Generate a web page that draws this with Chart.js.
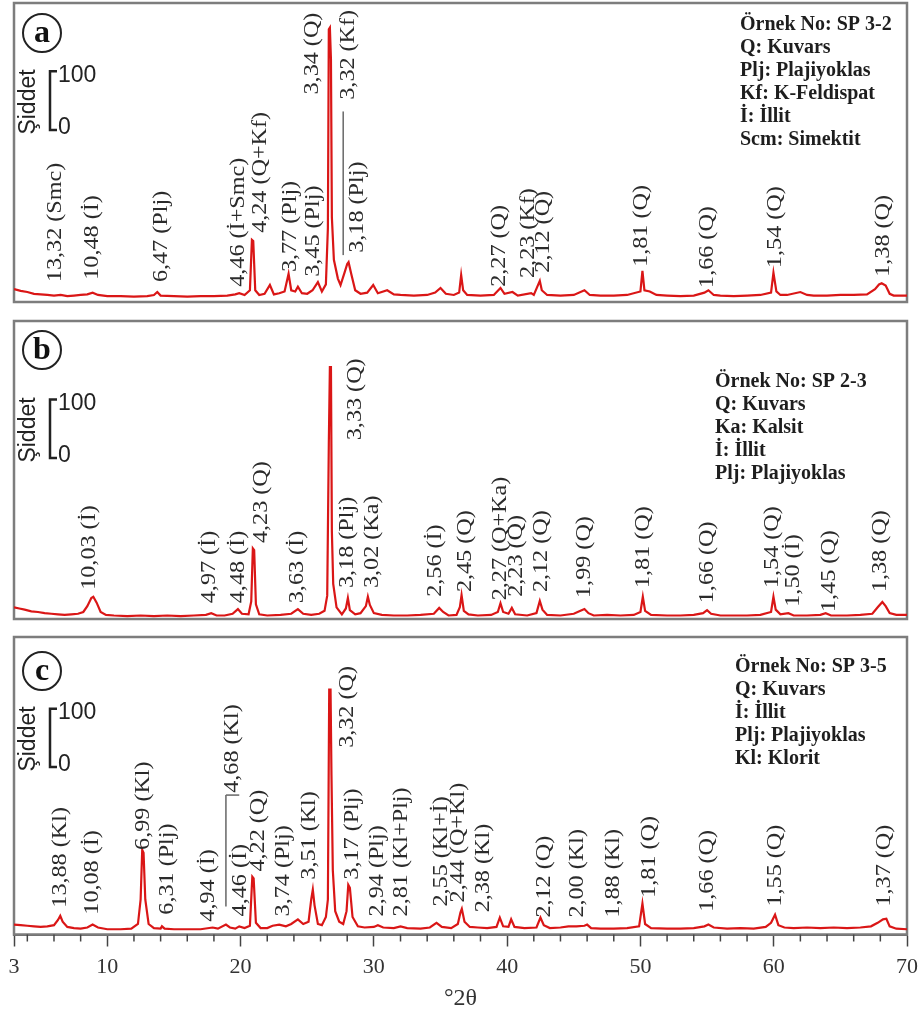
<!DOCTYPE html>
<html>
<head>
<meta charset="utf-8">
<script src="https://cdn.jsdelivr.net/npm/chart.js@4.4.1/dist/chart.umd.min.js"></script>
<style>
html, body { margin: 0; padding: 0; background: #fff; }
#wrap { position: relative; width: 921px; height: 1014px; }
.pn { position: absolute; left: 0; width: 921px; }
</style>
</head>
<body>
<div id="wrap">
  <div class="pn" style="top:0;height:312px"><canvas id="pa"></canvas></div>
  <div class="pn" style="top:312px;height:312px"><canvas id="pb"></canvas></div>
  <div class="pn" style="top:624px;height:390px"><canvas id="pc"></canvas></div>
</div>
<script>
// ---- panel a : SP 3-2 ----
var thetaA = [3.0,3.5,4.0,4.5,5.0,5.5,6.0,6.5,7.0,7.5,8.0,8.5,8.9,9.3,10,11,12,13,13.5,13.75,14.0,15,16,17,18,19,19.6,19.9,20.3,20.7,20.85,20.95,21.1,21.4,21.8,22.2,22.5,22.9,23.3,23.6,23.8,24.1,24.3,24.6,25.0,25.4,25.8,26.1,26.4,26.55,26.62,26.7,26.78,26.85,27.0,27.3,27.5,27.8,28.0,28.1,28.3,28.6,29.0,29.5,29.95,30.3,31.0,31.5,32,33,34,34.6,35.0,35.4,36,36.4,36.55,36.7,37,38,39,39.5,39.8,40.4,40.8,41.8,42.0,42.45,42.6,43,44,45,45.8,46.2,47,48,49,50.0,50.15,50.3,50.7,51.2,52,53,54,54.8,55.1,55.5,56,57,58,59,59.8,59.98,60.2,60.5,61,62,62.5,63,64,65,66,67,67.6,67.9,68.1,68.4,68.7,69,70];
var countsA = [22,19,17,14,13,12,11,12,10,11,12,13,16,12,10,10,9,10,12,17,11,10,9,10,10,11,13,15,12,20,106,104,20,12,14,29,13,15,18,48,20,18,26,15,14,20,34,18,30,126,465,468,414,144,72,40,29,50,65,68,48,20,14,16,29,15,20,13,12,11,12,16,24,14,12,16,46,20,12,11,12,24,14,17,11,15,12,36,20,12,11,12,20,12,11,11,12,18,53,20,18,12,11,10,11,16,20,12,11,10,11,12,16,50,18,12,12,17,12,11,11,12,12,13,22,30,32,28,14,11,11];
var peakTextA = ["13,32 (Smc)","10,48 (İ)","6,47 (Plj)","4,46 (İ+Smc)","4,24 (Q+Kf)","3,77 (Plj)","3,45 (Plj)","3,34 (Q)","3,32 (Kf)","3,18 (Plj)","2,27 (Q)","2,23 (Kf)","2,12 (Q)","1,81 (Q)","1,66 (Q)","1,54 (Q)","1,38 (Q)"];
var peakThetaA = [6.1,8.9,14.1,19.85,21.5,23.75,25.5,25.4,28.1,28.8,39.4,41.6,42.7,50.1,55.0,60.1,68.2];
var peakLiftA = [34,38,34,26,118,51,43,354,345,84,26,41,50,60,24,58,43];
var keyA = ["Örnek No: SP 3-2","Q: Kuvars","Plj: Plajiyoklas","Kf: K-Feldispat","İ: İllit","Scm: Simektit"];

// ---- panel b : SP 2-3 ----
var thetaB = [3.0,3.4,3.8,4.3,4.8,5.3,5.8,6.3,6.8,7.3,7.8,8.2,8.5,8.8,8.95,9.2,9.5,9.9,10.5,11.5,12.5,13.5,14.5,15.5,16.5,17.4,17.8,18.2,18.8,19.4,19.8,20.1,20.6,20.8,20.92,21.02,21.15,21.4,22,23,23.8,24.3,24.7,25.3,25.9,26.3,26.5,26.62,26.7,26.78,26.85,26.95,27.2,27.6,27.9,28.05,28.2,28.6,29.0,29.4,29.55,29.7,30.0,30.6,31.5,32.5,33.5,34.5,34.9,35.2,35.6,36.2,36.45,36.58,36.75,37.1,37.8,38.8,39.3,39.5,39.7,40.1,40.35,40.6,41.5,42.2,42.45,42.65,43.0,44,45,45.5,45.8,46.1,46.5,47.5,48.5,49.5,50.0,50.18,50.35,50.8,52,53,54,54.7,55.0,55.3,56,57,58,59,59.8,59.98,60.15,60.5,61.1,61.5,62.5,63.5,63.9,64.3,65.5,66.5,67.4,67.8,68.15,68.4,68.7,69.2,70];
var countsB = [20,18,16,13,12,10,9,8,7,8,9,12,22,36,38,28,12,7,6,5,6,5,6,5,6,7,10,6,6,9,17,9,8,30,121,118,25,8,6,7,9,17,9,7,9,14,40,300,431,431,149,60,20,8,18,36,15,8,10,22,38,24,10,7,6,6,7,9,19,12,6,7,20,41,14,8,6,7,12,27,12,9,19,8,6,10,31,16,7,6,9,14,17,10,6,7,6,7,12,38,14,7,6,6,7,10,15,9,6,6,6,7,12,38,16,8,10,6,6,7,10,6,6,7,9,20,29,22,10,7,7];
var peakTextB = ["10,03 (İ)","4,97 (İ)","4,48 (İ)","4,23 (Q)","3,63 (İ)","3,33 (Q)","3,18 (Plj)","3,02 (Ka)","2,56 (İ)","2,45 (Q)","2,27 (Q+Ka)","2,23 (Q)","2,12 (Q)","1,99 (Q)","1,81 (Q)","1,66 (Q)","1,54 (Q)","1,50 (İ)","1,45 (Q)","1,38 (Q)"];
var peakThetaB = [8.7,17.7,19.85,21.6,24.3,28.6,28.0,29.9,34.6,36.9,39.5,40.7,42.6,45.8,50.2,55.0,59.9,61.5,64.2,68.0];
var peakLiftB = [50,27,27,130,27,306,53,53,38,46,32,38,46,36,53,27,53,21,12,46];
var keyB = ["Örnek No: SP 2-3","Q: Kuvars","Ka: Kalsit","İ: İllit","Plj: Plajiyoklas"];

// ---- panel c : SP 3-5 ----
var thetaC = [3.0,3.5,4.0,4.5,5.0,5.5,6.0,6.3,6.47,6.65,7.0,7.5,8.0,8.5,8.9,9.3,10,11,11.8,12.3,12.5,12.62,12.72,12.85,13.1,13.5,14.0,14.1,14.3,15,16,17,17.9,18.3,18.9,19.2,19.6,19.9,20.3,20.7,20.88,20.98,21.15,21.5,22.0,22.4,22.9,23.4,23.8,24.3,24.7,25.1,25.3,25.42,25.55,25.8,26.1,26.4,26.55,26.65,26.75,26.82,26.92,27.1,27.4,27.7,27.95,28.08,28.2,28.4,28.8,29.3,30.0,30.3,30.7,31.5,32.0,32.5,33.5,34.2,34.7,35.1,35.8,36.3,36.5,36.6,36.8,37.2,37.8,38.5,39.2,39.45,39.7,40.1,40.3,40.55,41.3,42.2,42.5,42.75,43.2,44,44.6,45.2,45.8,46.0,46.3,47,48,49,49.9,50.15,50.35,50.8,52,53,54,54.8,55.1,55.5,56.5,57.5,58.5,59.4,59.8,60.1,60.35,60.8,61.5,62.5,63.5,64.5,65.5,66.5,67.3,67.8,68.2,68.45,68.7,69.2,70];
var countsC = [17,16,15,14,13,14,16,25,32,22,13,11,10,12,17,12,9,9,10,18,60,145,140,60,18,11,10,14,10,9,9,9,12,10,17,12,10,14,11,15,99,96,20,11,11,15,17,14,18,26,18,22,60,77,50,18,16,30,60,420,420,273,110,40,22,18,40,85,80,30,14,12,13,16,12,11,14,11,10,12,20,13,11,18,38,44,22,13,12,11,13,29,14,13,26,13,11,12,29,16,11,12,14,14,15,17,11,10,10,11,14,53,18,11,10,10,11,14,17,12,10,11,10,13,20,34,16,12,11,12,11,12,11,12,14,20,26,27,14,10,9];
var peakTextC = ["13,88 (Kl)","10,08 (İ)","6,99 (Kl)","6,31 (Plj)","4,94 (İ)","4,68 (Kl)","4,46 (İ)","4,22 (Q)","3,74 (Plj)","3,51 (Kl)","3,32 (Q)","3,17 (Plj)","2,94 (Plj)","2,81 (Kl+Plj)","2,55 (Kl+İ)","2,44 (Q+Kl)","2,38 (Kl)","2,12 (Q)","2,00 (Kl)","1,88 (Kl)","1,81 (Q)","1,66 (Q)","1,55 (Q)","1,37 (Q)"];
var peakThetaC = [6.5,8.9,12.7,14.5,17.6,19.4,20.0,21.35,23.2,25.15,28.0,28.4,30.3,32.1,35.05,36.35,38.2,42.8,45.3,48.0,50.7,55.0,60.1,68.3];
var peakLiftC = [46,34,145,34,22,243,31,108,31,94,320,94,31,31,48,55,38,29,29,29,63,39,48,48];
var keyC = ["Örnek No: SP 3-5","Q: Kuvars","İ: İllit","Plj: Plajiyoklas","Kl: Klorit"];

var majorTicks = [3,10,20,30,40,50,60,70];
var minorTicks = [4,6,8,12,14,16,18,22,24,26,28,32,34,36,38,42,44,46,48,52,54,56,58,62,64,66,68];

var decor = {
  id: 'decor',
  beforeDatasetsDraw: function(chart, args, o) {
    var ctx = chart.ctx, a = chart.chartArea;
    ctx.save();
    ctx.strokeStyle = '#7d7d7d';
    ctx.lineWidth = 2.5;
    ctx.strokeRect(a.left, a.top, a.right - a.left, a.bottom - a.top);
    ctx.restore();
  },
  afterDatasetsDraw: function(chart, args, o) {
    var ctx = chart.ctx, a = chart.chartArea, x = chart.scales.x, y = chart.scales.y;
    ctx.save();
    // leader lines
    ctx.strokeStyle = '#707070';
    ctx.lineWidth = 1.6;
    (o.leaders || []).forEach(function(l) {
      ctx.beginPath();
      ctx.moveTo(x.getPixelForValue(l[0]), y.getPixelForValue(l[1]));
      ctx.lineTo(x.getPixelForValue(l[2]), y.getPixelForValue(l[3]));
      ctx.stroke();
    });
    // peak labels
    ctx.fillStyle = '#2b2b2b';
    ctx.font = '21px "Liberation Serif"';
    ctx.textBaseline = 'middle';
    ctx.textAlign = 'left';
    o.text.forEach(function(t, i) {
      ctx.save();
      ctx.translate(x.getPixelForValue(o.theta[i]), y.getPixelForValue(o.lift[i]));
      ctx.rotate(-Math.PI / 2);
      ctx.scale(1.15, 1);
      ctx.fillText(t, 0, 0);
      ctx.restore();
    });
    // panel letter
    ctx.strokeStyle = '#222';
    ctx.lineWidth = 2;
    ctx.beginPath();
    ctx.arc(42, o.circleY, 19, 0, Math.PI * 2);
    ctx.stroke();
    ctx.fillStyle = '#111';
    ctx.font = 'bold 32px "Liberation Serif"';
    ctx.textAlign = 'center';
    ctx.fillText(o.letter, 42, o.circleY + 1);
    // intensity scale bar (100 counts)
    var bb = o.barBottom;
    var bt = bb - (y.getPixelForValue(0) - y.getPixelForValue(100));
    ctx.strokeStyle = '#222';
    ctx.lineWidth = 2.5;
    ctx.beginPath();
    ctx.moveTo(57, bt); ctx.lineTo(50, bt); ctx.lineTo(50, bb); ctx.lineTo(57, bb);
    ctx.stroke();
    ctx.fillStyle = '#222';
    ctx.font = '23px "Liberation Sans"';
    ctx.textAlign = 'left';
    ctx.fillText('100', 58, bt + 4);
    ctx.fillText('0', 58, bb - 2);
    ctx.save();
    ctx.translate(29, bb - 28);
    ctx.rotate(-Math.PI / 2);
    ctx.textAlign = 'center';
    ctx.fillText('Şiddet', 0, 0);
    ctx.restore();
    // key
    ctx.font = 'bold 20px "Liberation Serif"';
    ctx.fillStyle = '#1e1e1e';
    o.key.forEach(function(k, i) {
      ctx.fillText(k, o.keyX, o.keyY + i * 23);
    });
    // minor ticks on the bottom axis
    if (o.minor) {
      ctx.strokeStyle = '#444';
      ctx.lineWidth = 1.5;
      o.minor.forEach(function(v) {
        var px = x.getPixelForValue(v);
        ctx.beginPath();
        ctx.moveTo(px, a.bottom);
        ctx.lineTo(px, a.bottom + 7);
        ctx.stroke();
      });
    }
    ctx.restore();
  }
};

function panel(id, theta, counts, deco, pad, showAxis) {
  var xScale = { type: 'linear', min: 3, max: 70, display: false };
  if (showAxis) {
    xScale = {
      type: 'linear', min: 3, max: 70,
      afterBuildTicks: function(s) { s.ticks = majorTicks.map(function(v) { return { value: v }; }); },
      ticks: { font: { family: 'Liberation Serif', size: 22, lineHeight: 1.75 }, color: '#333', maxRotation: 0, autoSkip: false, padding: 1 },
      grid: { drawOnChartArea: false, tickLength: 12, tickColor: '#444', tickWidth: 1.5 },
      border: { color: '#555', width: 2 },
      title: { display: true, text: '°2θ', font: { family: 'Liberation Serif', size: 24, lineHeight: 1.0 }, color: '#333', padding: { top: 0, bottom: 0 } }
    };
  }
  return new Chart(document.getElementById(id), {
    type: 'line',
    data: {
      datasets: [{
        data: theta.map(function(t, i) { return { x: t, y: counts[i] }; }),
        borderColor: '#da1616',
        borderWidth: 2.2,
        pointRadius: 0,
        tension: 0
      }]
    },
    options: {
      responsive: true,
      maintainAspectRatio: false,
      animation: false,
      layout: { padding: pad },
      plugins: { legend: { display: false }, tooltip: { enabled: false }, decor: deco },
      scales: { x: xScale, y: { min: 0, max: 510, display: false } }
    },
    plugins: [decor]
  });
}

panel('pa', thetaA, countsA, {
  text: peakTextA, theta: peakThetaA, lift: peakLiftA, key: keyA,
  letter: 'a', circleY: 33, barBottom: 130, keyX: 740, keyY: 25,
  leaders: [[27.7, 80, 27.7, 325]]
}, { top: 3, bottom: 10, left: 14, right: 14 }, false);

panel('pb', thetaB, countsB, {
  text: peakTextB, theta: peakThetaB, lift: peakLiftB, key: keyB,
  letter: 'b', circleY: 38, barBottom: 146, keyX: 715, keyY: 70
}, { top: 9, bottom: 5, left: 14, right: 14 }, false);

panel('pc', thetaC, countsC, {
  text: peakTextC, theta: peakThetaC, lift: peakLiftC, key: keyC,
  letter: 'c', circleY: 47, barBottom: 143, keyX: 735, keyY: 43,
  leaders: [[18.9, 48, 18.9, 239], [18.9, 239, 19.9, 239]],
  minor: minorTicks
}, { top: 13, bottom: 3, left: 14, right: 14 }, true);
</script>
</body>
</html>
